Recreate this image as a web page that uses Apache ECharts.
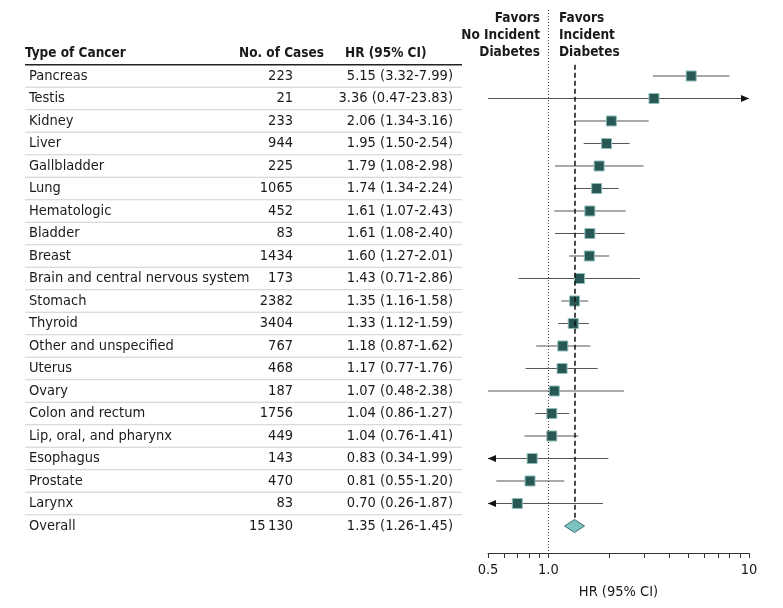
<!DOCTYPE html>
<html>
<head>
<meta charset="utf-8">
<script src="https://cdn.jsdelivr.net/npm/echarts@6/dist/echarts.min.js"></script>
<style>
html, body { margin: 0; padding: 0; background: #fff; }
#main { width: 783px; height: 608px; }
</style>
</head>
<body>
<div id="main"></div>
<script>
// 表格与森林图数据
var cancerTypes = ['Pancreas', 'Testis', 'Kidney', 'Liver', 'Gallbladder', 'Lung', 'Hematologic', 'Bladder', 'Breast',
  'Brain and central nervous system', 'Stomach', 'Thyroid', 'Other and unspecified', 'Uterus', 'Ovary',
  'Colon and rectum', 'Lip, oral, and pharynx', 'Esophagus', 'Prostate', 'Larynx', 'Overall']
var caseCounts = [223, 21, 233, 944, 225, 1065, 452, 83, 1434, 173, 2382, 3404, 767, 468, 187, 1756, 449, 143, 470, 83, 15130]
var hrValues = [5.15, 3.36, 2.06, 1.95, 1.79, 1.74, 1.61, 1.61, 1.60, 1.43, 1.35, 1.33, 1.18, 1.17, 1.07, 1.04, 1.04, 0.83, 0.81, 0.70, 1.35]
var ciLower = [3.32, 0.47, 1.34, 1.50, 1.08, 1.34, 1.07, 1.08, 1.27, 0.71, 1.16, 1.12, 0.87, 0.77, 0.48, 0.86, 0.76, 0.34, 0.55, 0.26, 1.26]
var ciUpper = [7.99, 23.83, 3.16, 2.54, 2.98, 2.24, 2.43, 2.40, 2.01, 2.86, 1.58, 1.59, 1.62, 1.76, 2.38, 1.27, 1.41, 1.99, 1.20, 1.87, 1.45]
var tickValues = [0.5, 0.6, 0.7, 0.8, 0.9, 1, 2, 3, 4, 5, 6, 7, 8, 9, 10]
var labelValues = [0.5, 1, 10]
var headers = ['Type of Cancer', 'No. of Cases', 'HR (95% CI)']
var overallHr = 1.35

var FONT = '"DejaVu Sans Condensed", "Liberation Sans Narrow", sans-serif'
var X_MIN = 0.5
var X_MAX = 10
var COL_NAME = 29, COL_CASES = 293, COL_HR = 453 // 列位置
var TABLE_L = 25, TABLE_R = 462

function fmtCases(n) {
  var s = String(n)
  if (n >= 10000) s = s.replace(/\B(?=(\d{3})+(?!\d))/g, '\u2009')
  return s
}
function fmtHr(i) {
  return hrValues[i].toFixed(2) + ' (' + ciLower[i].toFixed(2) + '-' + ciUpper[i].toFixed(2) + ')'
}
function txt(x, y, s, align, bold) {
  return {
    type: 'text',
    style: {
      x: x, y: y, text: s, textAlign: align, textVerticalAlign: 'middle',
      font: (bold ? 'bold 13.5px ' : '14.5px ') + FONT, fill: '#1a1a1a'
    }
  }
}

var rows = cancerTypes.map(function (n, i) { return [i, hrValues[i], ciLower[i], ciUpper[i]] })

function renderRow(params, api) {
  var i = api.value(0)
  var hr = api.value(1), lo = api.value(2), hi = api.value(3)
  var y = api.coord([1, i])[1]
  var rowH = api.size([0, 1])[1]
  var isOverall = i === cancerTypes.length - 1
  var ch = []
  // 表格文字
  ch.push(txt(COL_NAME, y, cancerTypes[i], 'left'))
  ch.push(txt(COL_CASES, y, fmtCases(caseCounts[i]), 'right'))
  ch.push(txt(COL_HR, y, fmtHr(i), 'right'))
  if (i > 0) {
    ch.push({ type: 'line', shape: { x1: TABLE_L, y1: y - rowH / 2, x2: TABLE_R, y2: y - rowH / 2 }, style: { stroke: '#cfcfcf', lineWidth: 1 } })
  }
  var cx = api.coord([hr, i])[0]
  if (!isOverall) {
    var x1 = api.coord([Math.max(lo, X_MIN), i])[0]
    var x2 = api.coord([Math.min(hi, X_MAX), i])[0]
    ch.push({ type: 'line', shape: { x1: x1, y1: y, x2: x2, y2: y }, style: { stroke: '#555', lineWidth: 1 } })
    if (lo < 0.4) {
      ch.push({ type: 'polygon', shape: { points: [[x1, y], [x1 + 8, y - 3.5], [x1 + 8, y + 3.5]] }, style: { fill: '#111' } })
    }
    if (hi > X_MAX) {
      ch.push({ type: 'polygon', shape: { points: [[x2, y], [x2 - 8, y - 3.5], [x2 - 8, y + 3.5]] }, style: { fill: '#111' } })
    }
    ch.push({ type: 'rect', shape: { x: cx - 5, y: y - 5, width: 10, height: 10 }, style: { fill: '#285855', stroke: '#8fbdb8', lineWidth: 1 } })
  } else {
    ch.push({ type: 'polygon', shape: { points: [[cx - 10, y], [cx, y - 6.5], [cx + 10, y], [cx, y + 6.5]] }, style: { fill: '#7cc4bf', stroke: '#3d6f6c', lineWidth: 1 } })
  }
  return { type: 'group', children: ch }
}

function renderHeader(params, api) {
  var y = api.coord([1, -1])[1]
  var rowH = api.size([0, 1])[1]
  return {
    type: 'group',
    children: [
      txt(25, y, headers[0], 'left', true),
      txt(324, y, headers[1], 'right', true),
      txt(345, y, headers[2], 'left', true),
      { type: 'line', shape: { x1: TABLE_L, y1: y + rowH / 2, x2: TABLE_R, y2: y + rowH / 2 }, style: { stroke: '#222', lineWidth: 1.5 } }
    ]
  }
}

var chart = echarts.init(document.getElementById('main'))
var option = {
  animation: false,
  textStyle: { fontFamily: FONT },
  graphic: [
    { type: 'text', right: 783 - 540, top: 10, style: { text: 'Favors\nNo Incident\nDiabetes', textAlign: 'right', font: 'bold 13.5px ' + FONT, lineHeight: 17, fill: '#1a1a1a' } },
    { type: 'text', left: 559, top: 10, style: { text: 'Favors\nIncident\nDiabetes', textAlign: 'left', font: 'bold 13.5px ' + FONT, lineHeight: 17, fill: '#1a1a1a' } }
  ],
  grid: { left: 488, width: 261, top: 10, height: 543, outerBoundsMode: 'none' },
  xAxis: {
    type: 'log',
    logBase: 10,
    min: X_MIN,
    max: X_MAX,
    name: 'HR (95% CI)',
    nameLocation: 'middle',
    nameGap: 32,
    nameTextStyle: { fontSize: 14.5, color: '#1a1a1a', fontFamily: FONT },
    axisLine: { show: true, onZero: false, lineStyle: { color: '#333', width: 1 } },
    axisTick: { show: true, length: 5, customValues: tickValues, lineStyle: { color: '#333' } },
    axisLabel: {
      customValues: labelValues,
      fontSize: 14.5,
      color: '#1a1a1a',
      margin: 10,
      formatter: function (v) { return v === 1 ? '1.0' : String(v) }
    },
    splitLine: { show: false }
  },
  yAxis: { type: 'value', inverse: true, min: -2.9333, max: 21.2, show: false },
  series: [
    {
      type: 'custom',
      renderItem: renderHeader,
      data: [[-1]],
      clip: false,
      silent: true
    },
    {
      type: 'custom',
      renderItem: renderRow,
      data: rows,
      clip: false,
      silent: true,
      z: 3,
      markLine: {
        silent: true,
        symbol: ['none', 'none'],
        label: { show: false },
        data: [
          { xAxis: 1, lineStyle: { color: '#444', width: 1, type: [1, 2] } },
          [
            { coord: [overallHr, -0.5], lineStyle: { color: '#111', width: 1.5, type: [5, 3] } },
            { coord: [overallHr, 19.7] }
          ]
        ]
      }
    }
  ]
}
chart.setOption(option)
</script>
</body>
</html>
